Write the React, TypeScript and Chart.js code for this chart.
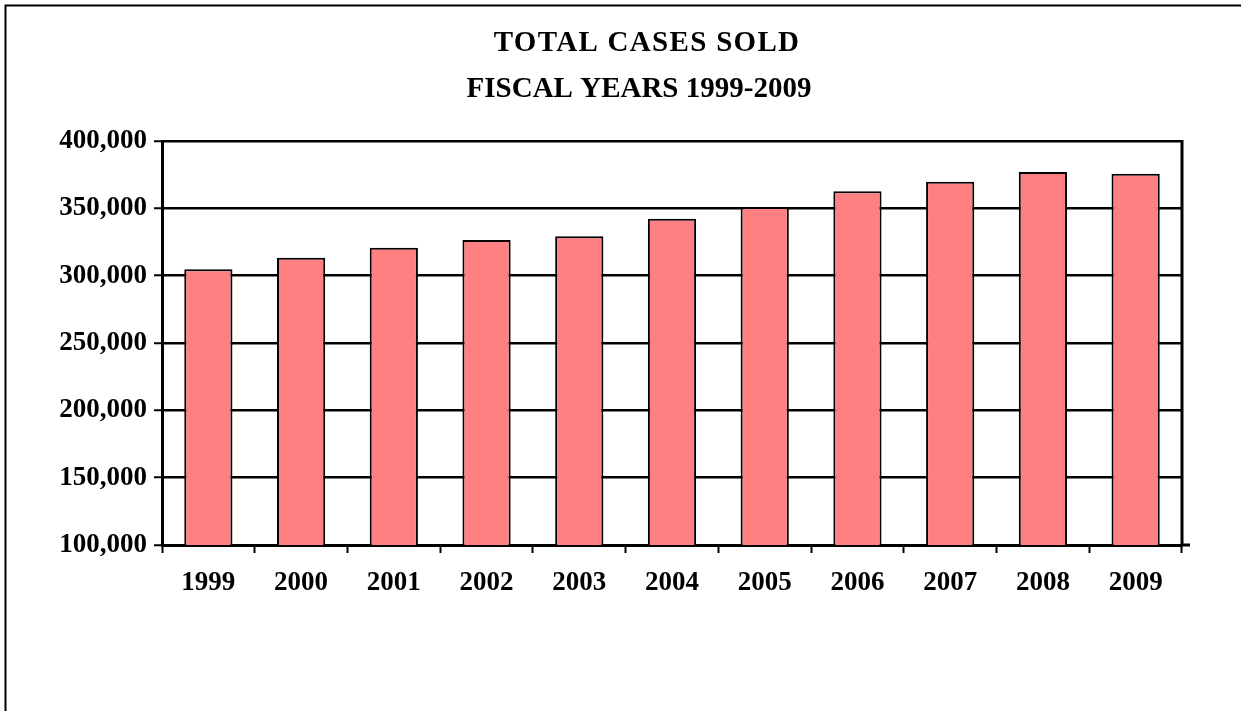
import React, { useEffect, useRef } from "react";
import { Chart, registerables } from "chart.js";

Chart.register(...registerables);

const years = ["1999", "2000", "2001", "2002", "2003", "2004", "2005", "2006", "2007", "2008", "2009"];
const casesSold = [304700, 313300, 320800, 326500, 329200, 342300, 351000, 362600, 369800, 377000, 375700];
const titleLine1 = "TOTAL CASES SOLD";
const titleLine2 = "FISCAL YEARS 1999-2009";
const yMin = 100000;
const yMax = 400000;
const yStep = 50000;

const FONT = "'Liberation Serif', 'Times New Roman', serif";

const framePlugin = {
  id: "frame",
  beforeDraw(chart: any) {
    const ctx = chart.ctx;
    ctx.save();
    ctx.fillStyle = "#ffffff";
    ctx.fillRect(0, 0, chart.width, chart.height);
    ctx.strokeStyle = "#000000";
    ctx.lineWidth = 2;
    ctx.beginPath();
    ctx.moveTo(5.5, chart.height);
    ctx.lineTo(5.5, 5.5);
    ctx.lineTo(chart.width, 5.5);
    ctx.stroke();
    ctx.restore();
  },
  afterDraw(chart: any) {
    const ctx = chart.ctx;
    const a = chart.chartArea;
    ctx.save();
    ctx.strokeStyle = "#000000";
    ctx.lineWidth = 3;
    ctx.beginPath();
    ctx.moveTo(a.right, a.top - 1);
    ctx.lineTo(a.right, a.bottom);
    ctx.stroke();
    ctx.beginPath();
    ctx.moveTo(a.right, a.bottom);
    ctx.lineTo(a.right + 8, a.bottom);
    ctx.stroke();
    // titles
    ctx.fillStyle = "#000000";
    ctx.textAlign = "center";
    ctx.textBaseline = "middle";
    ctx.font = `bold 29px ${FONT}`;
    (ctx as any).letterSpacing = "1.3px";
    ctx.fillText(titleLine1, 647, 44);
    (ctx as any).letterSpacing = "0px";
    ctx.fillText(titleLine2, 639, 90);
    ctx.restore();
  },
};

export default function App() {
  const ref = useRef<HTMLCanvasElement | null>(null);

  useEffect(() => {
    if (!ref.current) return;
    const chart = new Chart(ref.current, {
      type: "bar",
      data: {
        labels: years,
        datasets: [
          {
            data: casesSold,
            backgroundColor: "#FF8080",
            borderColor: "#000000",
            borderWidth: 2,
            barPercentage: 0.52,
            categoryPercentage: 1,
          },
        ],
      },
      options: {
        responsive: false,
        animation: false,
        layout: { padding: { top: 141, left: 20, right: 59, bottom: 106 } },
        plugins: {
          legend: { display: false },
          tooltip: { enabled: false },
          title: { display: false },
        },
        scales: {
          x: {
            offset: true,
            afterFit: (s: any) => {
              s.height = 60;
            },
            grid: {
              offset: true,
              drawOnChartArea: false,
              drawTicks: true,
              tickLength: 8,
              tickWidth: 2,
              tickColor: "#000000",
              color: "#000000",
            },
            border: { display: true, color: "#000000", width: 3 },
            ticks: {
              color: "#000000",
              padding: 14,
              font: { family: FONT, size: 27, weight: "bold" },
            },
          },
          y: {
            min: yMin,
            max: yMax,
            afterFit: (s: any) => {
              s.width = 142;
            },
            grid: {
              color: "#000000",
              lineWidth: 2.5,
              drawTicks: true,
              tickLength: 8,
              tickWidth: 2,
              tickColor: "#000000",
            },
            border: { display: true, color: "#000000", width: 3 },
            ticks: {
              stepSize: yStep,
              color: "#000000",
              padding: 7,
              font: { family: FONT, size: 27, weight: "bold" },
              callback: (v: any) => Number(v).toLocaleString("en-US"),
            },
          },
        },
      },
      plugins: [framePlugin],
    });
    return () => chart.destroy();
  }, []);

  return (
    <div style={{ position: "absolute", left: 0, top: 0, width: 1241, height: 711, background: "#fff" }}>
      <canvas ref={ref} width={1241} height={711} style={{ display: "block" }} />
    </div>
  );
}
